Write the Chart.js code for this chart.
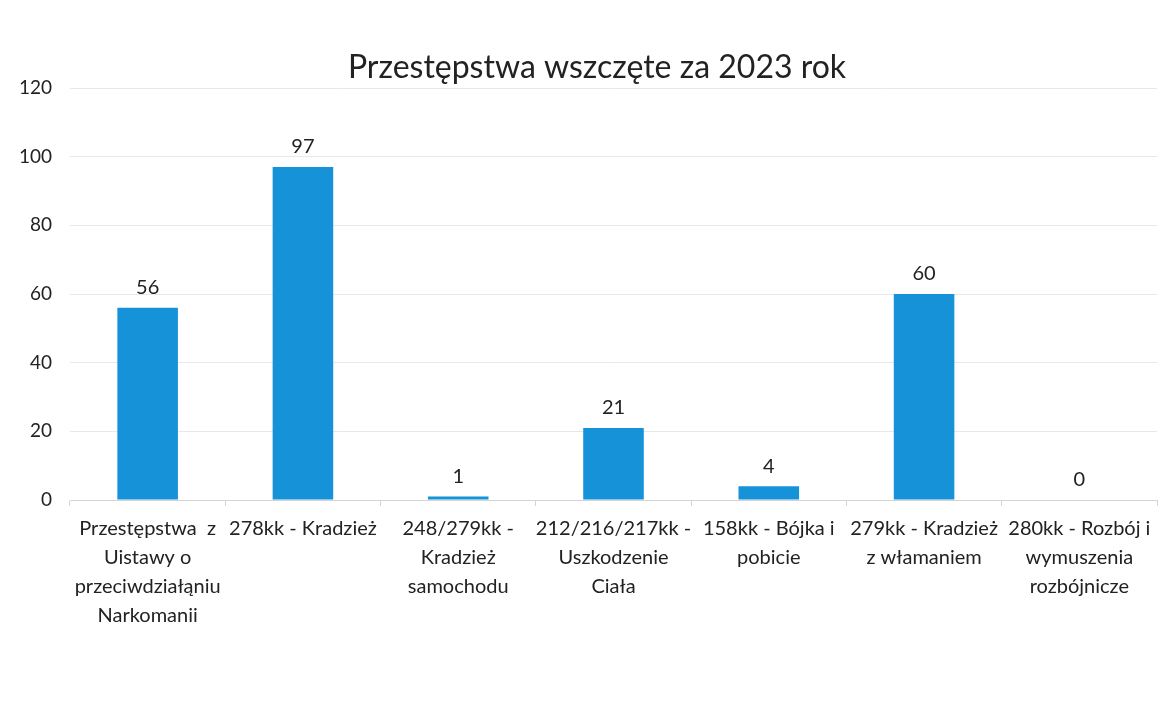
<!DOCTYPE html>
<html lang="pl">
<head>
<meta charset="utf-8">
<title>Przestępstwa wszczęte za 2023 rok</title>
<script src="https://cdn.jsdelivr.net/npm/chart.js@4/dist/chart.umd.min.js"></script>
<style>
    html, body { margin: 0; padding: 0; background: #ffffff; }
    #wrap { width: 1161px; height: 725px; position: relative; }
</style>
</head>
<body>
<div id="wrap"><canvas id="crimeChart" width="1161" height="725"></canvas></div>
<script>
// Data
const categories = [
    ['Przestępstwa  z', 'Uistawy o', 'przeciwdziałąniu', 'Narkomanii'],
    ['278kk - Kradzież'],
    ['248/279kk -', 'Kradzież', 'samochodu'],
    ['212/216/217kk -', 'Uszkodzenie', 'Ciała'],
    ['158kk - Bójka i', 'pobicie'],
    ['279kk - Kradzież', 'z włamaniem'],
    ['280kk - Rozbój i', 'wymuszenia', 'rozbójnicze']
];
const crimeCounts = [56, 97, 1, 21, 4, 60, 0];
const chartTitle = 'Przestępstwa wszczęte za 2023 rok';

const fontFamily = 'Lato, "Open Sans", sans-serif';

// Simple plugin to write the value above each bar
const valueLabels = {
    id: 'valueLabels',
    afterDatasetsDraw(chart) {
        const ctx = chart.ctx;
        const meta = chart.getDatasetMeta(0);
        ctx.save();
        ctx.font = '20px ' + fontFamily;
        ctx.fillStyle = '#222222';
        ctx.textAlign = 'center';
        ctx.textBaseline = 'bottom';
        meta.data.forEach(function(bar, i) {
            ctx.fillText(String(crimeCounts[i]), bar.x, bar.y - 10);
        });
        ctx.restore();
    }
};

// Title drawn by hand so it sits a bit right of centre like the original
const titleText = {
    id: 'titleText',
    afterDraw(chart) {
        const ctx = chart.ctx;
        ctx.save();
        ctx.font = '32px ' + fontFamily;
        ctx.fillStyle = '#222222';
        ctx.textAlign = 'center';
        ctx.textBaseline = 'middle';
        ctx.fillText(chartTitle, 597, 68);
        ctx.restore();
    }
};

const ctx = document.getElementById('crimeChart').getContext('2d');
new Chart(ctx, {
    type: 'bar',
    data: {
        labels: categories,
        datasets: [{
            label: 'Przestępstwa',
            data: crimeCounts,
            backgroundColor: '#1592d8',
            categoryPercentage: 1.0,
            barPercentage: 0.39
        }]
    },
    options: {
        responsive: false,
        animation: false,
        layout: { padding: { top: 88, right: 4, bottom: 0, left: 0 } },
        plugins: {
            legend: { display: false },
            tooltip: { enabled: false },
            title: { display: false }
        },
        scales: {
            x: {
                grid: {
                    display: true,
                    drawOnChartArea: false,
                    drawTicks: true,
                    tickLength: 6,
                    offset: true,
                    color: '#d4d4d4'
                },
                border: { color: '#d4d4d4' },
                ticks: {
                    color: '#222222',
                    font: { family: fontFamily, size: 20, lineHeight: 1.45 },
                    padding: 8,
                    maxRotation: 0,
                    autoSkip: false
                },
                afterFit(scale) { scale.height = 225; }
            },
            y: {
                min: 0,
                max: 120,
                grid: { color: '#e8e8e8', drawTicks: false },
                border: { display: false },
                ticks: {
                    stepSize: 20,
                    color: '#222222',
                    font: { family: fontFamily, size: 19 },
                    padding: 18
                },
                afterFit(scale) { scale.width = 70; }
            }
        }
    },
    plugins: [valueLabels, titleText]
});
</script>
</body>
</html>
